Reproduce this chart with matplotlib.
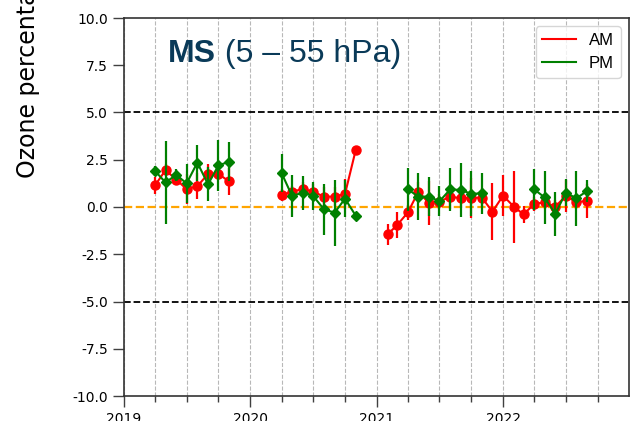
import numpy as np
import pandas as pd
import matplotlib
matplotlib.use('Agg')
import matplotlib.pyplot as plt
import matplotlib.dates as mdates
from matplotlib.lines import Line2D

nan = np.nan

# monthly, Apr 2019 .. Sep 2022
months = pd.date_range('2019-04-01', '2022-09-01', freq='MS')

am = [1.15, 1.95, 1.45, 0.95, 1.10, 1.75, 1.75, 1.35, nan,
      nan, nan, nan, 0.63, 0.81, 0.95, 0.81, 0.55, 0.55, 0.69, 3.02, nan,
      nan, -1.45, -0.95, -0.28, 0.81, 0.20, 0.28, 0.55, 0.46, 0.48, 0.50, -0.25,
      0.60, 0.02, -0.39, 0.16, 0.25, 0.02, 0.58, 0.25, 0.33]
am_err = [0.45, 0.30, 0.30, 0.80, 0.70, 0.55, 0.30, 0.70, nan,
          nan, nan, nan, 0.30, 0.30, 0.35, 0.40, 0.50, 0.50, 0.80, 0.00, nan,
          nan, 0.57, 0.70, 0.40, 0.50, 1.15, 0.40, 0.63, 0.50, 1.06, 0.50, 1.50,
          1.10, 1.90, 0.45, 0.35, 0.35, 0.35, 0.86, 0.35, 0.90]

pm = [1.90, 1.30, 1.70, 1.25, 2.35, 1.20, 2.20, 2.40, nan,
      nan, nan, nan, 1.78, 0.58, 0.76, 0.58, -0.12, -0.30, 0.44, -0.46, nan,
      nan, nan, nan, 0.93, 0.55, 0.55, 0.30, 0.93, 0.90, 0.70, 0.72, nan,
      nan, nan, nan, 0.93, 0.51, -0.37, 0.76, 0.46, 0.85]
pm_err = [0.25, 2.20, 0.30, 1.05, 0.95, 0.90, 1.37, 1.05, nan,
          nan, nan, nan, 1.00, 1.10, 0.90, 0.75, 1.36, 1.74, 0.97, 0.00, nan,
          nan, nan, nan, 1.15, 1.25, 1.05, 0.80, 1.15, 1.41, 1.20, 1.10, nan,
          nan, nan, nan, 1.10, 1.40, 1.15, 0.70, 1.45, 0.60]

yticks = np.arange(-10, 10.1, 2.5)

W, H = 631, 421
fig = plt.figure(figsize=(W / 100, H / 100), dpi=100)
ax = fig.add_axes([124 / W, 1 - 396 / H, 505 / W, 378 / H])

ax.errorbar(months, am, yerr=am_err, color='red', marker='o', ms=6.5,
            lw=1.5, elinewidth=1.6, capsize=0, zorder=3)
ax.errorbar(months, pm, yerr=pm_err, color='green', marker='D', ms=5.5,
            lw=1.5, elinewidth=1.6, capsize=0, zorder=4)

ax.axhline(5, color='black', ls='--', lw=1.3, zorder=2)
ax.axhline(-5, color='black', ls='--', lw=1.3, zorder=2)
ax.axhline(0, color='orange', ls='--', lw=1.6, zorder=2)

ax.set_xlim(pd.Timestamp('2019-01-01'), pd.Timestamp('2022-12-31'))
ax.set_ylim(-10, 10)
ax.set_yticks(yticks)
ax.yaxis.set_major_formatter(matplotlib.ticker.FormatStrFormatter('%.1f'))

ax.xaxis.set_major_locator(mdates.YearLocator())
ax.xaxis.set_major_formatter(mdates.DateFormatter('%Y'))
ax.xaxis.set_minor_locator(mdates.MonthLocator(bymonth=[4, 7, 10]))
ax.grid(axis='x', which='both', color='0.72', ls='--', lw=0.8, zorder=1)

ax.tick_params(axis='both', which='major', length=8, width=1, labelsize=10, color='0.25')
ax.tick_params(axis='x', which='minor', length=4.5, width=1, color='0.25')
for sp in ax.spines.values():
    sp.set_color('0.2')
    sp.set_linewidth(1.2)

# title inside the panel
navy = '#0a3a58'
t1 = ax.text(0.087, 0.883, 'MS', transform=ax.transAxes, fontsize=23,
             fontweight='bold', family='Liberation Sans', color=navy, va='baseline')
ax.annotate(' (5 – 55 hPa)', xy=(1, 0), xycoords=t1, fontsize=23,
            family='Liberation Sans', color=navy, va='bottom', ha='left')

handles = [Line2D([], [], color='red', lw=1.5), Line2D([], [], color='green', lw=1.5)]
ax.legend(handles, ['AM', 'PM'], loc='upper right', prop={'family': 'Liberation Sans', 'size': 12})

fig.text(0.045, 1 - 178 / H, 'Ozone percentage difference (%)', rotation=90,
         ha='center', va='bottom', fontsize=17)

fig.savefig('out.png', dpi=100)
